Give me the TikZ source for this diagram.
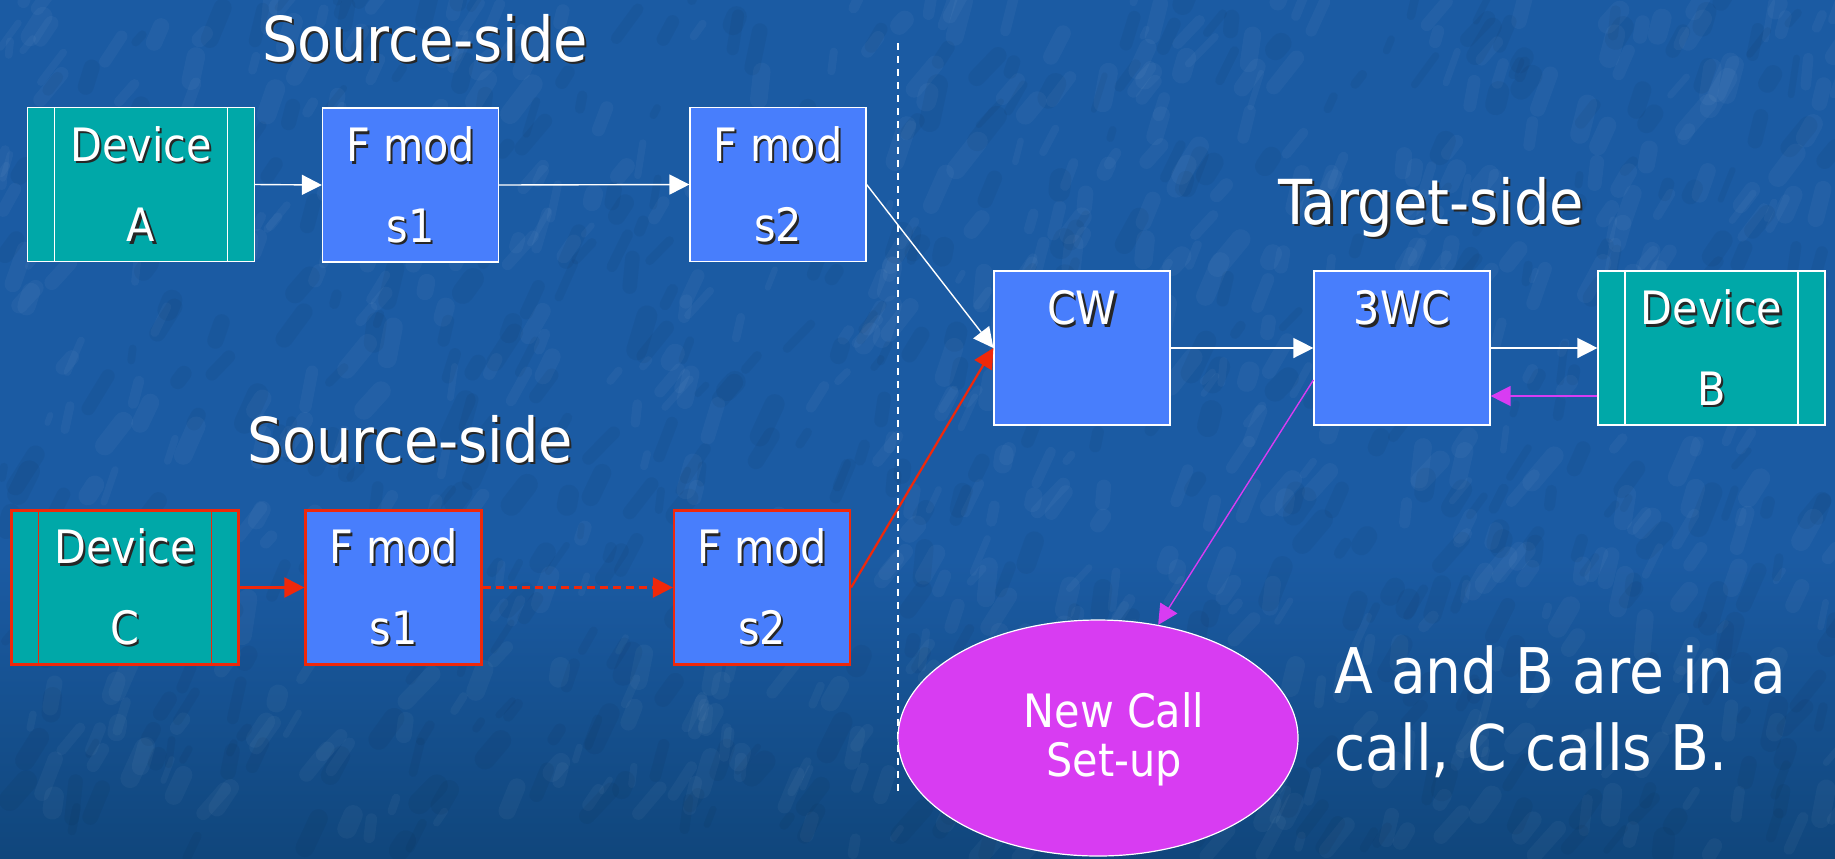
\documentclass[tikz,border=0pt]{standalone}
\usepackage{fontspec}
\setmainfont{DejaVu Sans Condensed}
\usetikzlibrary{arrows.meta,shapes.geometric}

\definecolor{bgtop}{RGB}{27,91,163}
\definecolor{bgbot}{RGB}{16,70,124}
\definecolor{fmodblue}{RGB}{72,126,252}
\definecolor{devteal}{RGB}{0,168,168}
\definecolor{callpink}{RGB}{216,60,242}
\definecolor{linkred}{RGB}{240,40,10}

% white text with a small dark drop shadow
\newcommand\sh[1]{\leavevmode\rlap{\kern1.1pt\raisebox{-1.1pt}{\color{black!85}#1}}#1}

\tikzset{
  boxbase/.style={draw=white, line width=0.6pt, minimum height=77pt, inner sep=0pt},
  fmod/.style={boxbase, fill=fmodblue, minimum width=88pt},
  device/.style={boxbase, fill=devteal, minimum width=113.5pt,
    path picture={
      \draw[draw=#1, line width=0.6pt]
        ([xshift=13.5pt]path picture bounding box.north west) -- ([xshift=13.5pt]path picture bounding box.south west)
        ([xshift=-13.5pt]path picture bounding box.north east) -- ([xshift=-13.5pt]path picture bounding box.south east);}},
  device/.default=white,
  redframe/.style={draw=linkred, line width=1.1pt},
  boxlbl/.style={text=white, font=\fontsize{23pt}{23pt}\selectfont, anchor=base, inner sep=0pt},
  title/.style={text=white, font=\fontsize{31pt}{31pt}\selectfont, anchor=base, inner sep=0pt},
  note/.style={text=white, font=\fontsize{31.5pt}{31.5pt}\selectfont, anchor=base west, inner sep=0pt},
  calllbl/.style={text=white, font=\fontsize{23pt}{23pt}\selectfont, anchor=base, inner sep=0pt},
  tip/.style={-{Triangle[length=10pt,width=10pt]}},
  whitelink/.style={tip, draw=white, line width=0.7pt},
  redlink/.style={tip, draw=linkred, line width=1.1pt},
  pinklink/.style={tip, draw=callpink, line width=0.7pt},
}

\begin{document}
\begin{tikzpicture}[x=0.5pt, y=-0.5pt]
  \useasboundingbox (0,0) rectangle (1835,858);

  % mottled blue background
  \fill[bgtop] (0,0) rectangle (1835,858);
  \shade[top color=bgtop, bottom color=bgbot] (0,560) rectangle (1835,858);
  \pgfmathsetseed{17}
  \foreach \i in {1,...,700}{
    \pgfmathsetmacro\px{rnd*1835}
    \pgfmathsetmacro\py{rnd*858}
    \pgfmathsetmacro\ang{-45-rnd*40}
    \pgfmathsetmacro\len{8+rnd*30}
    \pgfmathsetmacro\lw{3+rnd*7}
    \draw[white, opacity=0.035, line width=\lw pt, line cap=round] (\px,\py) -- ++(\ang:\len);
  }
  \foreach \i in {1,...,500}{
    \pgfmathsetmacro\px{rnd*1835}
    \pgfmathsetmacro\py{rnd*858}
    \pgfmathsetmacro\ang{-45-rnd*40}
    \pgfmathsetmacro\len{8+rnd*30}
    \pgfmathsetmacro\lw{3+rnd*8}
    \draw[black, opacity=0.04, line width=\lw pt, line cap=round] (\px,\py) -- ++(\ang:\len);
  }

  % side titles
  \node[title] (srcTop) at (425,61) {\sh{Source-side}};
  \node[title] (srcBot) at (410,462) {\sh{Source-side}};
  \node[title] (tgt) at (1431,224) {\sh{Target-side}};

  % divider between source and target sides
  \coordinate (divtop) at (898,43);
  \coordinate (divbot) at (898,796);
  \draw[white, line width=0.6pt, dash pattern=on 3.5pt off 3pt] (divtop) -- (divbot);

  % upper source chain
  \node[device] (devA) at (141,184.5) {};
  \node[fmod] (s1A) at (410.5,185) {};
  \node[fmod] (s2A) at (778,184.5) {};

  % lower source chain
  \node[device=linkred, redframe] (devC) at (125,587.5) {};
  \node[fmod, redframe] (s1C) at (393.5,587.5) {};
  \node[fmod, redframe] (s2C) at (762,587.5) {};

  % target side
  \node[fmod] (cw) at (1082,348) {};
  \node[fmod] (twc) at (1402,348) {};
  \node[device] (devB) at (1711.5,348) {};

  \node[ellipse, draw=white, line width=0.6pt, fill=callpink,
        minimum width=200pt, minimum height=118pt, inner sep=0pt] (ncs) at (1098,738) {};

  % box labels
  \foreach \b/\ta/\tb in {devA/Device/A, s1A/F mod/s1, s2A/F mod/s2,
                          devC/Device/C, s1C/F mod/s1, s2C/F mod/s2, devB/Device/B}{
    \node[boxlbl] (\b-l1) at ([yshift=-27.25pt]\b.north) {\sh{\ta}};
    \node[boxlbl] (\b-l2) at ([yshift=-67.5pt]\b.north) {\sh{\tb}};
  }
  \node[boxlbl] (cw-l1) at ([yshift=-27.25pt]cw.north) {\sh{CW}};
  \node[boxlbl] (twc-l1) at ([yshift=-27.25pt]twc.north) {\sh{3WC}};

  \node[calllbl] (ncs-l1) at (1114,727) {New Call};
  \node[calllbl] (ncs-l2) at (1114,776) {Set-up};

  \node[note] (note1) at (1334,693) {A and B are in a};
  \node[note] (note2) at (1334,770) {call, C calls B.};

  % connections of the existing call
  \draw[whitelink] (devA.east) -- (s1A.west);
  \draw[whitelink] (s1A.east) -- (s2A.west);
  \draw[whitelink] (s2A.east) -- (cw.west);
  \draw[whitelink] (cw.east) -- (twc.west);
  \draw[whitelink] (twc.east) -- (devB.west);

  % the new call from C
  \draw[redlink] (devC.east) -- (s1C.west);
  \draw[redlink, dash pattern=on 4pt off 2.5pt] (s1C.east) -- (s2C.west);
  \draw[redlink] (s2C.east) -- (cw.west);

  % signalling towards the new call set-up
  \draw[pinklink] ([yshift=-24pt]devB.west) -- ([yshift=-24pt]twc.east);
  \draw[pinklink] ([yshift=-16pt]twc.west) -- (ncs.62);
\end{tikzpicture}
\end{document}
